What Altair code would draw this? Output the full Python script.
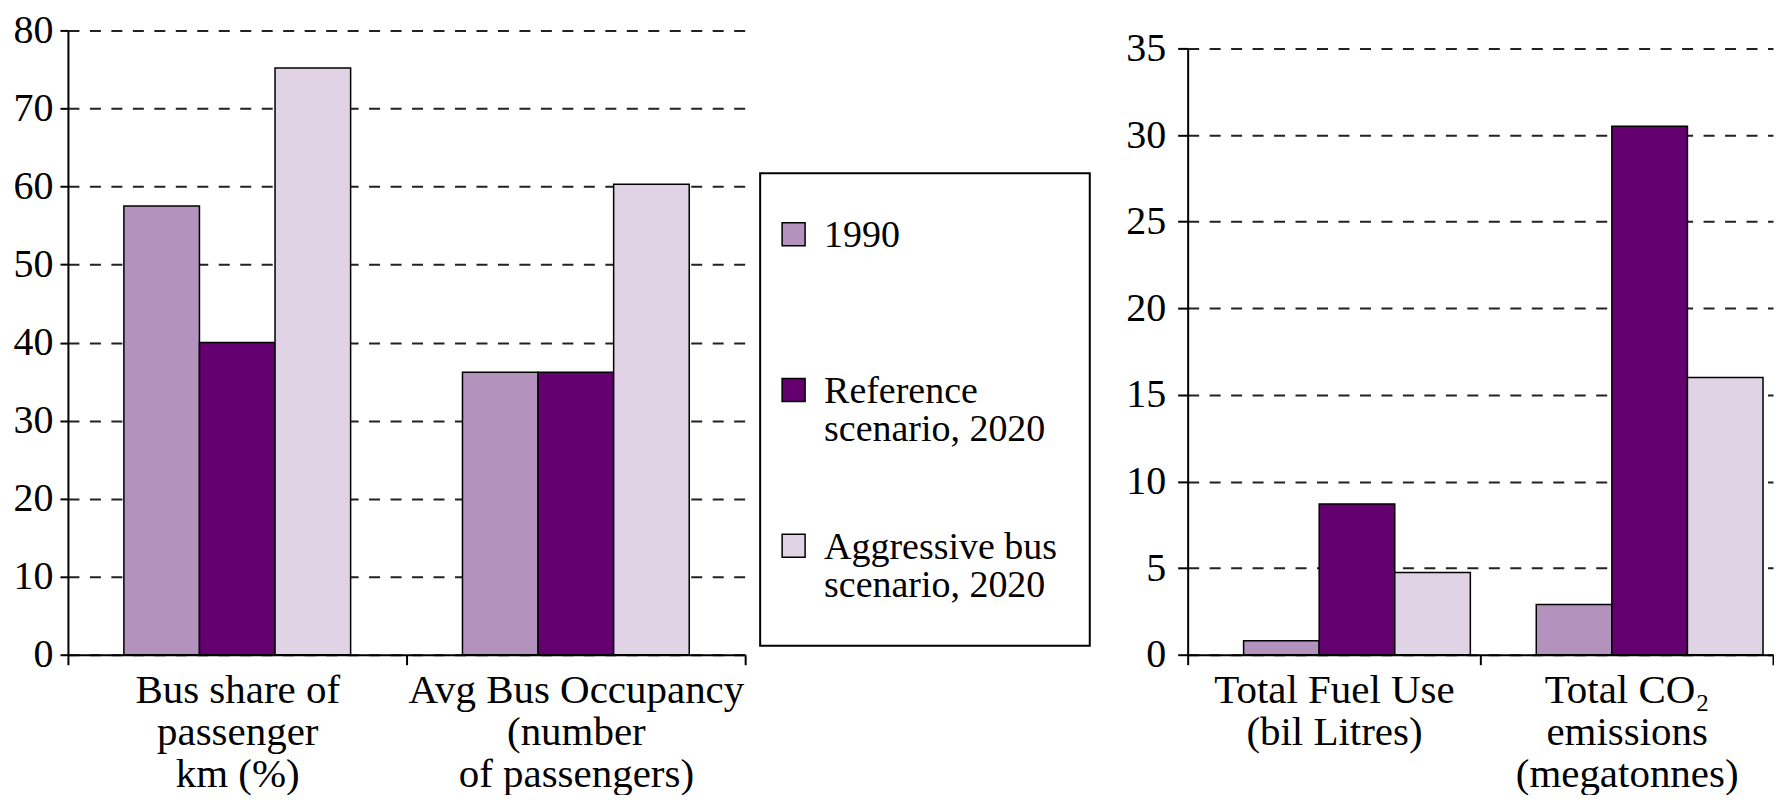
import altair as alt
import pandas as pd

FONT = "Liberation Serif"

# ---- data -------------------------------------------------------------
series = ["1990", "Reference scenario, 2020", "Aggressive bus scenario, 2020"]
legend_labels = ["1990", "Reference\nscenario, 2020", "Aggressive bus\nscenario, 2020"]
colors = ["#b393be", "#650070", "#e0d3e5"]

left_categories = ["Bus share of\npassenger\nkm (%)", "Avg Bus Occupancy\n(number\nof passengers)"]
left_1990 = [57.5, 36.2]
left_ref = [40.0, 36.2]
left_aggr = [75.2, 60.3]
left_ticks = [0, 10, 20, 30, 40, 50, 60, 70, 80]

right_categories = ["Total Fuel Use\n(bil Litres)", "Total CO\u2082\nemissions\n(megatonnes)"]
right_1990 = [0.8, 2.9]
right_ref = [8.7, 30.5]
right_aggr = [4.75, 16.0]
right_ticks = [0, 5, 10, 15, 20, 25, 30, 35]


def long_table(cats, v1, v2, v3):
    rows = []
    for i, c in enumerate(cats):
        for s, vals in zip(series, [v1, v2, v3]):
            rows.append({"category": c, "series": s, "value": vals[i]})
    return pd.DataFrame(rows)


left_df = long_table(left_categories, left_1990, left_ref, left_aggr)
right_df = long_table(right_categories, right_1990, right_ref, right_aggr)


def panel(df, cats, ticks, ymax, w, h, tick_size, label_pad):
    return alt.Chart(df).mark_bar(stroke="black", strokeWidth=1.5).encode(
        x=alt.X(
            "category:N",
            sort=cats,
            scale=alt.Scale(paddingInner=0, paddingOuter=0),
            axis=alt.Axis(
                title=None, labelAngle=0, labelExpr="split(datum.label, '\\n')",
                labelFont=FONT, labelFontSize=41, labelLineHeight=42, labelColor="black",
                labelPadding=6, labelLimit=1000, labelOverlap=False,
                tickBand="extent", tickSize=10, tickWidth=2, tickColor="black",
                domainColor="black", domainWidth=2, grid=False,
            ),
        ),
        xOffset=alt.XOffset("series:N", sort=series,
                            scale=alt.Scale(paddingInner=0, paddingOuter=0.74)),
        y=alt.Y(
            "value:Q",
            scale=alt.Scale(domain=[0, ymax], nice=False, zero=True),
            axis=alt.Axis(
                values=ticks, title=None, labelFont=FONT, labelFontSize=40,
                labelColor="black", labelPadding=label_pad, labelFlush=False,
                labelOverlap=False, tickSize=tick_size, tickWidth=2, tickColor="black",
                domainColor="black", domainWidth=2,
                grid=True, gridColor="#222222", gridWidth=2, gridDash=[11, 10.5],
            ),
        ),
        color=alt.Color("series:N", sort=series,
                        scale=alt.Scale(domain=series, range=colors), legend=None),
    ).properties(width=w, height=h)


def spacer(w, h):
    # empty block used only to push the next panel down inside its column
    return alt.Chart(pd.DataFrame({"s": [0]})).mark_point(opacity=0).encode(
        x=alt.value(0), y=alt.value(0)
    ).properties(width=w, height=h)


left = panel(left_df, left_categories, left_ticks, 80, 678, 625, 8, 7)
right = panel(right_df, right_categories, right_ticks, 35, 586, 607, 10, 12)

# ---- legend panel -------------------------------------------------------
legend_df = pd.DataFrame({"series": series, "label": legend_labels})
leg_base = alt.Chart(legend_df).encode(
    y=alt.Y("series:N", sort=series,
            scale=alt.Scale(type="point", padding=0.516, align=0.379), axis=None)
)
leg_sym = leg_base.mark_square(size=529, stroke="black", strokeWidth=1.5, opacity=1).encode(
    x=alt.value(33.5),
    color=alt.Color("series:N", sort=series,
                    scale=alt.Scale(domain=series, range=colors), legend=None),
)
leg_txt = leg_base.mark_text(
    align="left", baseline="alphabetic", dy=13, lineBreak="\n",
    font=FONT, fontSize=38, lineHeight=38, color="black",
).encode(x=alt.value(64), text="label:N")

legend = alt.layer(leg_sym, leg_txt).properties(
    width=330, height=473,
    view=alt.ViewBackground(stroke="black", strokeWidth=2),
)

legend_col = alt.vconcat(spacer(355, 143), legend, spacing=0, bounds="flush")
right_col = alt.vconcat(spacer(586, 18), right, spacing=0, bounds="flush")

chart = alt.hconcat(left, legend_col, right_col, spacing=11).properties(
    padding={"left": 5, "top": 2, "right": 0, "bottom": 0},
    background="white",
).configure_view(strokeWidth=0)

chart.save("out.html", embed_options={"renderer": "svg", "actions": False})
